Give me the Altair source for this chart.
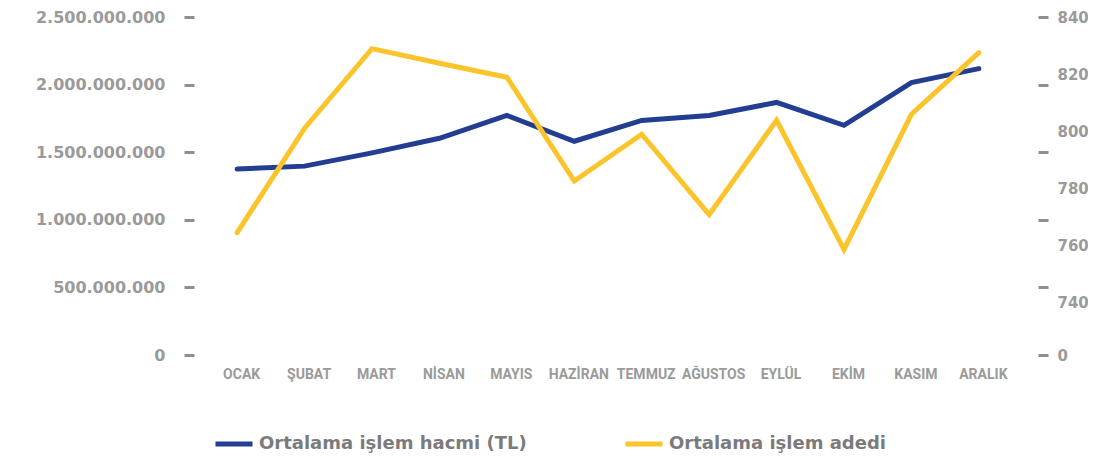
import altair as alt
import pandas as pd

months = ["OCAK", "ŞUBAT", "MART", "NİSAN", "MAYIS", "HAZİRAN",
          "TEMMUZ", "AĞUSTOS", "EYLÜL", "EKİM", "KASIM", "ARALIK"]
hacim = [1375e6, 1397e6, 1495e6, 1603e6, 1772e6, 1581e6,
         1735e6, 1772e6, 1868e6, 1699e6, 2015e6, 2118e6]
adet = [764.4, 801.0, 828.9, 823.8, 818.9, 782.5,
        798.9, 770.7, 803.8, 758.5, 805.9, 827.5]

left_ticks = [0, 500_000_000, 1_000_000_000, 1_500_000_000, 2_000_000_000, 2_500_000_000]
right_labels = [721.5, 740, 760, 780, 800, 820, 840]
series_names = ["Ortalama işlem hacmi (TL)", "Ortalama işlem adedi"]
series_colors = ["#233d93", "#fcc42b"]

df = pd.DataFrame({"ay": months, "hacim": hacim, "adet": adet})

GRAY = "#9a9a9a"
TICK = "#8f8f8f"

x = alt.X("ay:N", sort=months,
          scale=alt.Scale(type="point", padding=0.64),
          axis=alt.Axis(title=None, ticks=False, domain=False, labelAngle=0,
                        labelFont="Roboto", labelFontWeight="bold", labelFontSize=14,
                        labelColor=GRAY, labelPadding=12, labelOffset=4))

color_scale = alt.Scale(domain=series_names, range=series_colors)
legend = alt.Legend(title=None, orient="none", direction="horizontal",
                    legendX=19, legendY=406, symbolType="stroke", symbolSize=1369,
                    symbolStrokeWidth=5, labelFont="DejaVu Sans", labelFontWeight="bold",
                    labelFontSize=18, labelColor="#7b7b7b", labelOffset=4,
                    columnPadding=88, labelLimit=400)

base = alt.Chart(df)

left_label_expr = ("replace(replace(replace(format(datum.value, ','), ',', '.'), ',', '.'), ',', '.')")

blue = base.transform_calculate(seri=f"'{series_names[0]}'").mark_line(
    strokeWidth=5, strokeCap="round").encode(
    x=x,
    y=alt.Y("hacim:Q",
            scale=alt.Scale(domain=[0, 2.5e9], nice=False, zero=True),
            axis=alt.Axis(orient="left", title=None, values=left_ticks,
                          labelExpr=left_label_expr, grid=False, domain=False,
                          tickSize=10, tickWidth=3, tickColor=TICK, labelPadding=19,
                          labelFont="DejaVu Sans", labelFontWeight="bold",
                          labelFontSize=16, labelColor=GRAY)),
    color=alt.Color("seri:N", scale=color_scale, legend=legend),
)

yellow = base.transform_calculate(seri=f"'{series_names[1]}'").mark_line(
    strokeWidth=5, strokeCap="round").encode(
    x=x,
    y=alt.Y("adet:Q",
            scale=alt.Scale(domain=[721.5, 840], nice=False, zero=False),
            axis=alt.Axis(orient="right", title=None, values=right_labels,
                          labelExpr="datum.value < 730 ? '0' : format(datum.value, 'd')",
                          grid=False, domain=False, ticks=False, tickSize=0,
                          labelPadding=19, offset=16,
                          labelFont="DejaVu Sans", labelFontWeight="bold",
                          labelFontSize=15, labelColor=GRAY)),
    color=alt.Color("seri:N", scale=color_scale, legend=legend),
)

right_ticks = base.mark_line(opacity=0).encode(
    x=x,
    y=alt.Y("hacim:Q",
            scale=alt.Scale(domain=[0, 2.5e9], nice=False, zero=True),
            axis=alt.Axis(orient="right", title=None, values=left_ticks, labels=False,
                          grid=False, domain=False, tickSize=10, tickWidth=3,
                          tickColor=TICK, offset=16)),
)

chart = alt.layer(blue, yellow, right_ticks).resolve_scale(
    y="independent"
).properties(
    width=828, height=338,
    padding={"left": 186, "top": 9, "right": 66, "bottom": 102},
    autosize=alt.AutoSizeParams(type="none"),
    background="white",
).configure_view(strokeWidth=0)

chart.save("out.html", embed_options={"renderer": "svg", "actions": False})
